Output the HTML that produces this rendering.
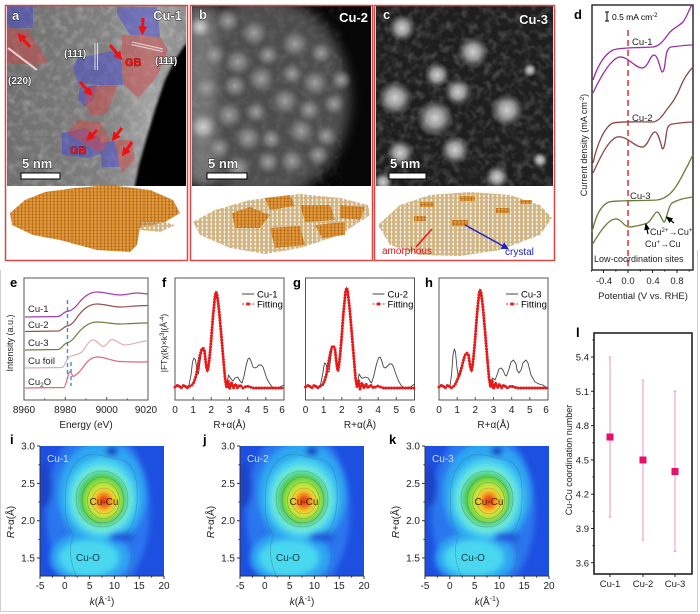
<!DOCTYPE html>
<html><head><meta charset="utf-8">
<style>
html,body{margin:0;padding:0;background:#fff;width:700px;height:614px;overflow:hidden}
svg{display:block;font-family:"Liberation Sans",Arial,sans-serif}
.tl{font-weight:bold;fill:#fff;stroke:#000;stroke-width:0.8;paint-order:stroke}
</style></head>
<body>
<svg width="700" height="614" viewBox="0 0 700 614" xmlns="http://www.w3.org/2000/svg" xmlns:xlink="http://www.w3.org/1999/xlink">
<defs>
<clipPath id="ca"><rect x="7" y="6" width="179" height="180"/></clipPath>
<clipPath id="cb"><rect x="192" y="6" width="179" height="180"/></clipPath>
<clipPath id="cc"><rect x="376" y="6" width="177" height="180"/></clipPath>
<clipPath id="cm"><rect x="0" y="0" width="124" height="130"/></clipPath>
<filter id="bl3" x="-20%" y="-20%" width="140%" height="140%"><feGaussianBlur stdDeviation="3"/></filter>
<filter id="bl6" x="-30%" y="-30%" width="160%" height="160%"><feGaussianBlur stdDeviation="6"/></filter>
<filter id="bl1"><feGaussianBlur stdDeviation="1.2"/></filter>
<filter id="noise" x="0" y="0" width="100%" height="100%"><feTurbulence type="fractalNoise" baseFrequency="0.13" numOctaves="2" seed="7"/><feColorMatrix type="matrix" values="0 0 0 0 1  0 0 0 0 1  0 0 0 0 1  1.3 0 0 0 -0.55"/></filter>
<radialGradient id="blob"><stop offset="0" stop-color="#d0d0d0"/><stop offset="0.45" stop-color="#b0b0b0" stop-opacity="0.85"/><stop offset="1" stop-color="#808080" stop-opacity="0"/></radialGradient>
<radialGradient id="blob2"><stop offset="0" stop-color="#a0a0a0"/><stop offset="0.5" stop-color="#868686" stop-opacity="0.7"/><stop offset="1" stop-color="#606060" stop-opacity="0"/></radialGradient>
<linearGradient id="ga" x1="0" x2="1" y1="0" y2="0"><stop offset="0" stop-color="#6e6e6e"/><stop offset="0.55" stop-color="#808080"/><stop offset="0.8" stop-color="#a2a2a2"/><stop offset="1" stop-color="#8a8a8a"/></linearGradient>
<marker id="ar" viewBox="0 0 10 10" refX="4" refY="5" markerWidth="3" markerHeight="3" orient="auto"><path d="M0,0 L10,5 L0,10 z" fill="#ee1111"/></marker>
<marker id="ab" viewBox="0 0 10 10" refX="4" refY="5" markerWidth="6" markerHeight="6" orient="auto"><path d="M0,1 L10,5 L0,9 z" fill="#000"/></marker>
<marker id="abl" viewBox="0 0 10 10" refX="4" refY="5" markerWidth="5" markerHeight="5" orient="auto"><path d="M0,0 L10,5 L0,10 z" fill="#2020d0"/></marker>
<pattern id="po" width="3.6" height="3.2" patternUnits="userSpaceOnUse"><rect width="3.6" height="3.2" fill="#b46c1c"/><circle cx="1.8" cy="1.6" r="1.45" fill="#e3983a"/></pattern>
<pattern id="pt" width="4.4" height="4" patternUnits="userSpaceOnUse"><circle cx="2.2" cy="2" r="1.8" fill="#dab87e" stroke="#a8864c" stroke-width="0.4"/></pattern>

<path id="rf1" d="M0,387 L3,385 L6,388 L9,385 L12,388 L15,386 L17,385 L19,382 L21,376 L23,366 L25,355 L26.5,350 L28,348 L29.5,351 L30.5,360 L31.5,368 L32.5,371 L33.5,366 L34.5,358 L36,342 L38,316 L40,296 L41,292 L42,294 L44,310 L46,332 L48,355 L50,378 L51.5,387 L53,380 L54.5,389 L56.5,383 L58.5,388 L60.5,384 L62.5,388 L65,385 L68,388 L72,386 L78,388 L109,388"/>
<path id="rf2" d="M0,387 L3,385 L6,388 L9,385 L12,388 L15,386 L17,385 L19,381 L21,374 L23,363 L25,352 L26.5,347 L28,346 L29.5,349 L30.5,359 L31.5,367 L32.5,371 L33.5,365 L34.5,356 L36,339 L38,312 L40,292 L41,288 L42,290 L44,307 L46,330 L48,354 L50,378 L51.5,387 L53,380 L54.5,389 L56.5,383 L58.5,388 L60.5,384 L62.5,388 L65,385 L68,388 L72,386 L78,388 L109,388"/>
<path id="rf3" d="M0,387 L3,385 L6,388 L9,385 L12,388 L15,386 L17,383 L19,378 L21,373 L23,366 L25,358 L26.5,354 L28,353 L29.5,355 L30.5,362 L31.5,368 L32.5,371 L33.5,366 L34.5,357 L36,341 L38,314 L40,294 L41,290 L42,292 L44,308 L46,331 L48,355 L50,378 L51.5,387 L53,380 L54.5,389 L56.5,383 L58.5,388 L60.5,384 L62.5,388 L65,385 L68,388 L72,386 L78,388 L109,388"/>

<g id="cmap">
 <g clip-path="url(#cm)">
  <rect width="124" height="130" fill="#1d4fe0"/>
  <g filter="url(#bl3)">
   <ellipse cx="58" cy="65" rx="52" ry="85" fill="#2a76ee"/>
   <ellipse cx="62" cy="48" rx="44" ry="52" fill="#2fa6f2"/>
   <ellipse cx="50" cy="112" rx="40" ry="26" fill="#2fa6f2"/>
   <ellipse cx="62" cy="52" rx="36" ry="40" fill="#46d2f0"/>
   <ellipse cx="49" cy="112" rx="30" ry="18" fill="#4ad8f0"/>
   <ellipse cx="62" cy="53" rx="30" ry="33" fill="#78eed8"/>
   <ellipse cx="62" cy="53" rx="25" ry="27" fill="#3cc84a"/>
   <ellipse cx="63" cy="54" rx="19" ry="21" fill="#9ee43a"/>
   <ellipse cx="64" cy="55" rx="14" ry="15" fill="#f4ec3a"/>
   <ellipse cx="64" cy="55" rx="10" ry="11" fill="#f8a020"/>
   <ellipse cx="64" cy="55" rx="6" ry="7" fill="#e83418"/>
   <ellipse cx="82" cy="91" rx="13" ry="5" fill="#2258dc"/>
   <ellipse cx="72" cy="5" rx="6" ry="5" fill="#1a3cc4"/>
   <ellipse cx="4" cy="40" rx="8" ry="22" fill="#1a42c8"/>
  </g>
  <g fill="none" stroke="#3a6a70" stroke-width="0.6" opacity="0.5">
   <ellipse cx="62" cy="53" rx="26" ry="28"/>
   <ellipse cx="63" cy="54" rx="21" ry="23"/>
   <ellipse cx="63.5" cy="54.5" rx="16" ry="18"/>
   <ellipse cx="64" cy="55" rx="12" ry="13"/>
   <path d="M36,130 C30,115 28,100 34,90 C26,80 24,62 26,42 C28,25 35,15 45,10 C55,6 70,12 82,14 C95,18 98,35 97,55 C96,72 92,82 86,88 C95,96 92,112 88,130"/>
  </g>
 </g>
 <path d="M0,0 V130 H124" fill="none" stroke="#333" stroke-width="1"/>
 <g stroke="#333" stroke-width="1">
  <path d="M0,130v3M24.8,130v3M49.6,130v3M74.4,130v3M99.2,130v3M124,130v3M12.4,130v1.6M37.2,130v1.6M62,130v1.6M86.8,130v1.6M111.6,130v1.6"/>
  <path d="M0,0h-3M0,37.35h-3M0,74.7h-3M0,112.05h-3M0,18.7h-1.6M0,56h-1.6M0,93.4h-1.6"/>
 </g>
 <g font-size="10" fill="#222" text-anchor="middle">
  <text x="0" y="143">-5</text><text x="24.8" y="143">0</text><text x="49.6" y="143">5</text><text x="74.4" y="143">10</text><text x="99.2" y="143">15</text><text x="124" y="143">20</text>
 </g>
 <g font-size="10" fill="#222" text-anchor="end">
  <text x="-5" y="3.5">3.0</text><text x="-5" y="40.9">2.5</text><text x="-5" y="78.2">2.0</text><text x="-5" y="115.6">1.5</text>
 </g>
 <text x="62" y="159" text-anchor="middle" font-size="10" fill="#222"><tspan font-style="italic">k</tspan>(Å<tspan font-size="7" dy="-4">-1</tspan><tspan dy="4">)</tspan></text>
 <text transform="translate(-26,76) rotate(-90)" text-anchor="middle" font-size="10" fill="#222"><tspan font-style="italic">R</tspan>+α(Å)</text>
 <text x="64" y="59" text-anchor="middle" font-size="10" fill="#4a2208">Cu-Cu</text>
 <text x="48" y="115" text-anchor="middle" font-size="10" fill="#1c3c3c">Cu-O</text>
</g>
</defs>

<!-- outer light frame -->
<path d="M0.5,270 V611.5 H697.5 V250" fill="none" stroke="#cfcfcf" stroke-width="1"/>

<!-- ===== Panel a ===== -->
<g clip-path="url(#ca)">
 <rect x="7" y="6" width="179" height="180" fill="url(#ga)"/>
 <rect x="7" y="6" width="179" height="180" filter="url(#noise)" opacity="0.4"/>
 <polygon points="190,38 176,58 165,80 155,110 146,140 139,165 134,190 190,190" fill="#050505" filter="url(#bl1)"/>
 <g fill="#4848d0" opacity="0.5">
  <polygon points="7,6 33,6 33,28 7,28"/>
  <polygon points="117,7 157,7 160,37 130,35 117,14"/>
  <polygon points="78,58 117,50 122,63 123,85 98,85 78,83 73,67"/>
  <polygon points="80,87 97,85 93,100 85,107 78,100"/>
  <polygon points="62,133 85,128 100,138 102,153 90,158 62,155"/>
  <polygon points="100,143 115,141 120,167 102,167"/>
 </g>
 <g fill="#d04848" opacity="0.5">
  <polygon points="7,28 28,30 48,62 37,65 7,63"/>
  <polygon points="122,35 160,37 168,50 157,77 138,98 123,83 122,63"/>
  <polygon points="85,87 118,85 107,113 93,117 86,107"/>
  <polygon points="78,120 100,122 110,140 100,153 67,133"/>
  <polygon points="115,140 132,140 135,160 122,173 118,160"/>
 </g>
 <g stroke="#eee" stroke-width="1" opacity="0.85">
  <path d="M95,43 V70 M97.5,43 V70"/>
  <path d="M132,42 L163,49 M131.5,44.5 L162.5,51.5"/>
 </g>
 <path d="M8,48 L37,70" stroke="#f4d4d4" stroke-width="2"/>
 <g stroke="#ee1111" stroke-width="3" marker-end="url(#ar)">
  <path d="M30,47 L21,37"/>
  <path d="M143,18 L142.5,30"/>
  <path d="M110,45 L119,56"/>
  <path d="M80,82 L89,92"/>
  <path d="M97,130 L90,137"/>
  <path d="M122,128 L115,137"/>
  <path d="M132,142 L125,152"/>
 </g>
 <text x="12" y="20" class="tl" font-size="13">a</text>
 <text x="182" y="20" class="tl" font-size="13" text-anchor="end">Cu-1</text>
 <text x="64" y="57" class="tl" font-size="10">(111)</text>
 <text x="8" y="84" class="tl" font-size="10">(220)</text>
 <text x="155" y="64" class="tl" font-size="10">(111)</text>
 <text x="125" y="66" font-size="11" font-weight="bold" fill="#ee1111" stroke="#400" stroke-width="0.4" paint-order="stroke">GB</text>
 <text x="70" y="154" font-size="11" font-weight="bold" fill="#ee1111" stroke="#400" stroke-width="0.4" paint-order="stroke">GB</text>
 <text x="22" y="168" class="tl" font-size="13">5 nm</text>
 <rect x="21" y="173" width="39" height="6" fill="#fff" stroke="#000" stroke-width="1"/>
</g>

<!-- ===== Panel b ===== -->
<g clip-path="url(#cb)">
 <rect x="192" y="6" width="179" height="180" fill="#060606"/>
 <ellipse cx="262" cy="98" rx="88" ry="102" fill="#4e4e4e" filter="url(#bl6)"/>
 <rect x="188" y="6" width="28" height="180" fill="#747474" filter="url(#bl6)"/>
 <rect x="192" y="6" width="150" height="180" filter="url(#noise)" opacity="0.15"/>
 <g fill="url(#blob2)">
  <circle cx="201" cy="28" r="15"/><circle cx="228" cy="21" r="13"/><circle cx="254" cy="33" r="15"/>
  <circle cx="214" cy="55" r="13"/><circle cx="238" cy="62" r="15"/><circle cx="268" cy="55" r="12"/><circle cx="295" cy="44" r="15"/><circle cx="321" cy="53" r="12"/>
  <circle cx="206" cy="88" r="15"/><circle cx="235" cy="86" r="13"/><circle cx="261" cy="79" r="15"/><circle cx="292" cy="74" r="12"/><circle cx="315" cy="83" r="15"/><circle cx="341" cy="80" r="11"/>
  <circle cx="229" cy="115" r="15"/><circle cx="256" cy="112" r="12"/><circle cx="285" cy="101" r="15"/><circle cx="309" cy="110" r="13"/><circle cx="334" cy="104" r="12"/>
  <circle cx="219" cy="148" r="13"/><circle cx="248" cy="138" r="15"/><circle cx="271" cy="139" r="12"/><circle cx="301" cy="131" r="15"/><circle cx="326" cy="136" r="12"/>
  <circle cx="238" cy="168" r="15"/><circle cx="268" cy="162" r="13"/><circle cx="292" cy="161" r="14"/><circle cx="318" cy="155" r="12"/>
 </g>
 <circle cx="203" cy="127" r="15" fill="url(#blob)"/>
 <circle cx="200" cy="27" r="11" fill="url(#blob)"/>
 <text x="199" y="19" class="tl" font-size="13">b</text>
 <text x="368" y="22" class="tl" font-size="13" text-anchor="end">Cu-2</text>
 <text x="208" y="168" class="tl" font-size="13">5 nm</text>
 <rect x="207" y="173" width="40" height="6" fill="#fff" stroke="#000" stroke-width="1"/>
</g>

<!-- ===== Panel c ===== -->
<g clip-path="url(#cc)">
 <rect x="376" y="6" width="177" height="180" fill="#1e1e1e"/>
 <rect x="376" y="6" width="177" height="180" filter="url(#noise)" opacity="0.35"/>
 <g fill="url(#blob)">
  <circle cx="402" cy="28" r="14"/><circle cx="473" cy="52" r="16"/><circle cx="437" cy="75" r="13"/>
  <circle cx="395" cy="98" r="18"/><circle cx="458" cy="92" r="14"/><circle cx="435" cy="118" r="19"/>
  <circle cx="507" cy="110" r="17"/><circle cx="455" cy="150" r="15"/><circle cx="400" cy="153" r="14"/>
  <circle cx="497" cy="177" r="12"/><circle cx="540" cy="160" r="8"/><circle cx="383" cy="182" r="10"/><circle cx="530" cy="70" r="7"/>
 </g>
 <text x="383" y="19" class="tl" font-size="13">c</text>
 <text x="548" y="24" class="tl" font-size="13" text-anchor="end">Cu-3</text>
 <text x="390" y="168" class="tl" font-size="13">5 nm</text>
 <rect x="389" y="173" width="37" height="6" fill="#fff" stroke="#000" stroke-width="1"/>
</g>

<!-- models -->
<polygon points="10,213 25,200 45,192 75,188 110,185 150,190 173,200 180,213 165,222 140,228 137,245 130,252 97,250 60,240 33,235 12,225" fill="url(#po)"/>
<polygon points="140,222 165,222 175,225 160,232 140,230" fill="url(#pt)"/>
<polygon points="193,222 215,210 250,200 300,194 340,198 368,205 370,215 340,235 300,248 265,254 230,248 200,235" fill="url(#pt)"/>
<g fill="url(#po)">
 <polygon points="232,213 250,207 270,215 260,228 235,228"/>
 <polygon points="265,198 290,195 295,206 270,210"/>
 <polygon points="300,205 330,205 335,220 305,222"/>
 <polygon points="270,228 300,226 305,245 275,248"/>
 <polygon points="340,205 365,207 360,220 340,218"/>
 <polygon points="315,225 345,222 345,235 322,238"/>
</g>
<polygon points="378,225 400,205 430,195 470,192 510,195 540,205 552,218 540,235 500,250 460,256 420,255 390,245" fill="url(#pt)"/>
<g fill="url(#po)">
 <rect x="420" y="202" width="14" height="5"/><rect x="460" y="196" width="15" height="5"/><rect x="414" y="216" width="12" height="5"/>
 <rect x="452" y="220" width="16" height="6"/><rect x="496" y="208" width="14" height="5"/><rect x="520" y="200" width="12" height="4"/>
</g>
<path d="M432,229 L416,247" stroke="#ee1111" stroke-width="1.5"/>
<path d="M465,225 L505,247" stroke="#2020d0" stroke-width="1.5" marker-end="url(#abl)"/>
<text x="382" y="254" font-size="10" fill="#dd1111">amorphous</text>
<text x="505" y="255" font-size="10" fill="#2020d0">crystal</text>

<!-- red frames -->
<g fill="none" stroke="#d44848" stroke-width="1.5">
 <rect x="5.5" y="5.5" width="182" height="255"/>
 <rect x="190.5" y="5.5" width="182" height="255"/>
 <rect x="374.5" y="5.5" width="180" height="255"/>
</g>

<!-- ===== Panel d ===== -->
<text x="574" y="19" font-size="13" font-weight="bold">d</text>
<rect x="592" y="5" width="101" height="265" fill="none" stroke="#222" stroke-width="1.4"/>
<path d="M607,12 V21 M605,12 H609 M605,21 H609" stroke="#000" stroke-width="1"/>
<text x="612" y="20" font-size="8.5">0.5 mA cm<tspan font-size="6" dy="-3">-2</tspan></text>
<path d="M628,30 V270" stroke="#e03030" stroke-width="1.5" stroke-dasharray="6 4"/>
<g fill="none" stroke-width="1.3">
 <path stroke="#9a2fa8" d="M593,80 C597,68 603,55 613,50 C622,47 640,48 653,47 C661,46 665,38 670,32 C675,27 679,26 683,22 C687,17 689,9 692,5"/>
 <path stroke="#9a2fa8" d="M593,93 C600,78 610,60 619,57 C628,56 635,68 642,68 C648,68 650,55 654,55 C657,55 659,63 661,70 C662,74 664,72 665,64 C666,54 667,48 671,47 C679,46 686,45 693,45"/>
 <path stroke="#8c4848" d="M593,163 C597,145 604,127 613,123 C624,121 642,122 653,122 C660,121 664,113 668,108 C672,103 676,98 680,88 C684,78 688,72 693,67"/>
 <path stroke="#8c4848" d="M593,173 C600,158 608,140 617,137 C627,135 635,148 643,147 C648,146 651,132 655,132 C658,132 660,141 662,148 C663,151 665,146 666,136 C667,128 668,125 672,124 C680,123 687,122 693,122"/>
 <path stroke="#6b7b3a" d="M592,232 C596,215 601,205 609,202 C618,200 640,201 657,200 C666,199 672,193 677,185 C682,177 685,170 688,165 C690,160 692,157 693,155"/>
 <path stroke="#6b7b3a" d="M592,245 C598,235 607,220 615,219 C621,218 624,227 629,227 C634,227 640,225 645,224 C651,223 654,212 657,212 C660,212 662,221 664,222 C666,223 668,206 672,203 C679,199 686,198 693,197"/>
</g>
<g font-size="9.5" fill="#222">
 <text x="632" y="45">Cu-1</text>
 <text x="632" y="121">Cu-2</text>
 <text x="630" y="199">Cu-3</text>
 <text x="650" y="235" font-size="9">Cu<tspan font-size="6" dy="-3">2+</tspan><tspan dy="3">→Cu</tspan><tspan font-size="6" dy="-3">+</tspan></text>
 <text x="645" y="247" font-size="9">Cu<tspan font-size="6" dy="-3">+</tspan><tspan dy="3">→Cu</tspan></text>
 <text x="594" y="262" font-size="9">Low-coordination sites</text>
</g>
<path d="M648,234 L646.5,227" stroke="#000" stroke-width="1.2" marker-end="url(#ab)"/>
<path d="M674,223 L669,219" stroke="#000" stroke-width="1.2" marker-end="url(#ab)"/>
<g stroke="#222" stroke-width="1">
 <path d="M603.5,270v3M628,270v3M652.5,270v3M677,270v3M591.3,270v1.6M615.8,270v1.6M640.3,270v1.6M664.8,270v1.6M689.3,270v1.6"/>
</g>
<g font-size="9.5" text-anchor="middle" fill="#222">
 <text x="604" y="284">-0.4</text><text x="628" y="284">0.0</text><text x="653" y="284">0.4</text><text x="677" y="284">0.8</text>
 <text x="643" y="299">Potential (V vs. RHE)</text>
</g>
<text transform="translate(587,145) rotate(-90)" text-anchor="middle" font-size="9" fill="#222">Current density (mA cm<tspan font-size="6" dy="-3">-2</tspan><tspan dy="3">)</tspan></text>

<!-- ===== Panel e ===== -->
<text x="10" y="287" font-size="13" font-weight="bold">e</text>
<rect x="24" y="278" width="124" height="122" fill="none" stroke="#555" stroke-width="1"/>
<path d="M67.5,300 V379" stroke="#3a90d0" stroke-width="1.4" stroke-dasharray="4 3"/>
<path d="M71,362 V386" stroke="#3a90d0" stroke-width="1.4" stroke-dasharray="4 3"/>
<g fill="none" stroke-width="1.2">
 <path stroke="#a040b0" d="M25,317 L58,316.5 C62,316 63,312 67,311.5 C71,311 74,309 78,304 C84,296 90,292 97,292 C105,292 112,295 120,295 C127,295 131,293 137,293 C142,293 145,294 148,294"/>
 <path stroke="#985050" d="M25,331.5 L58,331 C62,330.5 63,327 67,326 C71,325.5 74,322 78,316 C84,308 90,304 97,304 C105,304 112,307 120,307 C127,307 135,305.5 148,305.5"/>
 <path stroke="#708040" d="M25,350 L58,349.5 C62,349 63,344 67,343 C71,342 74,338 78,333 C84,326 90,322 97,322 C105,322 112,324 120,324 C127,324 135,323 148,323"/>
 <path stroke="#e0b0b0" d="M25,368 L62,367.5 C65,367 66,358 70,356.5 C74,355 78,355 82,352 C86,347 89,340 93,340 C97,340 100,346 103,346.5 C106,347 109,339.5 112,339.5 C116,339.5 120,345 125,345 C132,345 140,341 148,341"/>
 <path stroke="#e06878" d="M25,388 L64,387.5 C66,387 68,372 70,371.5 C71.5,371 72,377 73.5,376.5 C76,375 80,372 84,366 C88,360 92,357 98,357 C105,357 112,361 120,361.5 C130,362 140,362 148,362"/>
</g>
<g font-size="9.5" fill="#222">
 <text x="28" y="312">Cu-1</text><text x="28" y="328">Cu-2</text><text x="28" y="346">Cu-3</text><text x="28" y="364">Cu foil</text><text x="28" y="385">Cu<tspan font-size="6.5" dy="2">2</tspan><tspan dy="-2">O</tspan></text>
</g>
<g stroke="#555" stroke-width="1">
 <path d="M24,400v-3M65.3,400v-3M106.7,400v-3M148,400v-3M44.7,400v-1.6M86,400v-1.6M127.3,400v-1.6"/>
</g>
<g font-size="10" text-anchor="middle" fill="#222">
 <text x="24" y="413">8960</text><text x="65.3" y="413">8980</text><text x="106.7" y="413">9000</text><text x="146" y="413">9020</text>
 <text x="86" y="428">Energy (eV)</text>
</g>
<text transform="translate(13,343) rotate(-90)" text-anchor="middle" font-size="9" fill="#222">Intensity (a.u.)</text>

<!-- ===== Panels f g h ===== -->
<text x="162" y="287" font-size="13" font-weight="bold">f</text>
<text x="293" y="287" font-size="13" font-weight="bold">g</text>
<text x="425" y="287" font-size="13" font-weight="bold">h</text>
<text transform="translate(167,343) rotate(-90)" text-anchor="middle" font-size="8.5" fill="#222">|FTχ(k)×k<tspan font-size="6" dy="-3">3</tspan><tspan dy="3">|(Å</tspan><tspan font-size="6" dy="-3">-4</tspan><tspan dy="3">)</tspan></text>

<g transform="translate(175,0)">
 <rect x="0" y="278" width="109" height="122" fill="none" stroke="#555"/>
 <polyline fill="none" stroke="#444" stroke-width="0.9" stroke-linejoin="round" points="0,387 3,386 6,388 9,386 12,387 14,385 16,375 17.5,362 19,358 20.5,360 22,370 23.5,374 25,362 26.5,352 28,349 29.5,352 30.5,361 31.5,368 32.5,371 33.5,366 34.5,358 36,342 38,316 40,296 41,292 42,294 44,310 46,332 48,355 50,378 51.5,385 53.6,375 56,379 58,381 60,378 62.7,377 65,381 67,383 69,376 71,366 73,359 74.5,358 76,361 78,367 80,368 82,367 84,365 86.3,365 88,367 90,373 92,379 95,384 98,388 100,389 105,387 109,385"/>
 <use xlink:href="#rf1" href="#rf1" fill="none" stroke="#e81818" stroke-width="1.2"/>
 <use xlink:href="#rf1" href="#rf1" fill="none" stroke="#e81818" stroke-width="3" stroke-dasharray="0 2.8" stroke-linecap="round"/>
 <path d="M67,294 H79" stroke="#444"/><text x="82" y="297.5" font-size="9.5">Cu-1</text>
 <path d="M67,304 H79" stroke="#e81818" stroke-dasharray="2 1.5"/><rect x="71.5" y="302.5" width="3" height="3" fill="#e81818"/><text x="82" y="307.5" font-size="9.5">Fitting</text>
</g>
<g transform="translate(305.5,0)">
 <rect x="0" y="278" width="109" height="122" fill="none" stroke="#555"/>
 <polyline fill="none" stroke="#444" stroke-width="0.9" stroke-linejoin="round" points="0,387 3,386 6,388 9,386 12,387 15,385 17,375 19,363 20.5,364 22,371 23.5,372 25,360 26.5,348 28,346 29.5,349 30.5,359 31.5,367 32.5,371 33.5,365 34.5,356 36,339 38,312 40,292 41,288 42,290 44,307 46,330 48,354 50,378 51.5,386 53.6,374 56,378 58,378 60,377 62.7,378 65,382 66,383 68,377 71,364 73,358 74.5,357 76,360 78,367 80,368 82,366 84,364 86.3,364 88,367 90,373 93,381 96,386 100,388 105,387 109,384"/>
 <use xlink:href="#rf2" href="#rf2" fill="none" stroke="#e81818" stroke-width="1.2"/>
 <use xlink:href="#rf2" href="#rf2" fill="none" stroke="#e81818" stroke-width="3" stroke-dasharray="0 2.8" stroke-linecap="round"/>
 <path d="M67,294 H79" stroke="#444"/><text x="82" y="297.5" font-size="9.5">Cu-2</text>
 <path d="M67,304 H79" stroke="#e81818" stroke-dasharray="2 1.5"/><rect x="71.5" y="302.5" width="3" height="3" fill="#e81818"/><text x="82" y="307.5" font-size="9.5">Fitting</text>
</g>
<g transform="translate(439,0)">
 <rect x="0" y="278" width="109" height="122" fill="none" stroke="#555"/>
 <polyline fill="none" stroke="#444" stroke-width="0.9" stroke-linejoin="round" points="0,387 3,386 6,388 9,386 11,386 12.5,375 14,355 15.4,349 16.5,352 18,368 19.5,378 21,376 23,368 25,360 26.5,355 28,353 29.5,355 30.5,362 31.5,368 32.5,371 33.5,366 34.5,357 36,341 38,314 40,294 41,290 42,292 44,308 46,331 48,355 50,378 51.5,386 53.6,378 56,380 58,375 60,369 62,368 64,370 66,375 67.5,376 70,369 72,362 74.5,360 77,364 78,370 80,373 82,370 84,363 87,360 89,363 92,375 96,382 100,384 104,385 109,389"/>
 <use xlink:href="#rf3" href="#rf3" fill="none" stroke="#e81818" stroke-width="1.2"/>
 <use xlink:href="#rf3" href="#rf3" fill="none" stroke="#e81818" stroke-width="3" stroke-dasharray="0 2.8" stroke-linecap="round"/>
 <path d="M67,294 H79" stroke="#444"/><text x="82" y="297.5" font-size="9.5">Cu-3</text>
 <path d="M67,304 H79" stroke="#e81818" stroke-dasharray="2 1.5"/><rect x="71.5" y="302.5" width="3" height="3" fill="#e81818"/><text x="82" y="307.5" font-size="9.5">Fitting</text>
</g>
<!-- fgh ticks and labels -->
<g font-size="10" text-anchor="middle" fill="#222">
 <g transform="translate(175,0)">
  <text x="0" y="413">0</text><text x="18.2" y="413">1</text><text x="36.3" y="413">2</text><text x="54.5" y="413">3</text><text x="72.7" y="413">4</text><text x="90.8" y="413">5</text><text x="107" y="413">6</text>
  <text x="54.5" y="428">R+α(Å)</text>
 </g>
 <g transform="translate(305.5,0)">
  <text x="0" y="413">0</text><text x="18.2" y="413">1</text><text x="36.3" y="413">2</text><text x="54.5" y="413">3</text><text x="72.7" y="413">4</text><text x="90.8" y="413">5</text><text x="107" y="413">6</text>
  <text x="54.5" y="428">R+α(Å)</text>
 </g>
 <g transform="translate(439,0)">
  <text x="0" y="413">0</text><text x="18.2" y="413">1</text><text x="36.3" y="413">2</text><text x="54.5" y="413">3</text><text x="72.7" y="413">4</text><text x="90.8" y="413">5</text><text x="107" y="413">6</text>
  <text x="54.5" y="428">R+α(Å)</text>
 </g>
</g>
<g stroke="#555" stroke-width="1">
 <path d="M193.2,400v-3M211.3,400v-3M229.5,400v-3M247.7,400v-3M265.8,400v-3"/>
 <path d="M323.7,400v-3M341.8,400v-3M360,400v-3M378.2,400v-3M396.3,400v-3"/>
 <path d="M457.2,400v-3M475.3,400v-3M493.5,400v-3M511.7,400v-3M529.8,400v-3"/>
</g>

<!-- ===== Panels i j k ===== -->
<text x="10" y="444" font-size="13" font-weight="bold">i</text>
<text x="203" y="444" font-size="13" font-weight="bold">j</text>
<text x="389" y="444" font-size="13" font-weight="bold">k</text>
<g transform="translate(40,446)"><use xlink:href="#cmap" href="#cmap"/><text x="7" y="16" font-size="10" fill="#d4dcff">Cu-1</text></g>
<g transform="translate(240,446)"><use xlink:href="#cmap" href="#cmap"/><text x="7" y="16" font-size="10" fill="#d4dcff">Cu-2</text></g>
<g transform="translate(425,446)"><use xlink:href="#cmap" href="#cmap"/><text x="7" y="16" font-size="10" fill="#d4dcff">Cu-3</text></g>

<!-- ===== Panel l ===== -->
<text x="576" y="337" font-size="13" font-weight="bold">l</text>
<rect x="594" y="333" width="98" height="241" fill="none" stroke="#222" stroke-width="1.6"/>
<g stroke="#222" stroke-width="1">
 <path d="M594,357h-3M594,391.3h-3M594,425.6h-3M594,459.9h-3M594,494.2h-3M594,528.5h-3M594,562.8h-3"/>
 <path d="M594,339.9h-1.6M594,374.1h-1.6M594,408.4h-1.6M594,442.7h-1.6M594,477h-1.6M594,511.3h-1.6M594,545.6h-1.6"/>
 <path d="M610,574v3M643,574v3M675,574v3"/>
</g>
<g font-size="9.5" text-anchor="end" fill="#222">
 <text x="589" y="360.5">5.4</text><text x="589" y="394.8">5.1</text><text x="589" y="429.1">4.8</text><text x="589" y="463.4">4.5</text><text x="589" y="497.7">4.2</text><text x="589" y="532">3.9</text><text x="589" y="566.3">3.6</text>
</g>
<g font-size="9.5" text-anchor="middle" fill="#222">
 <text x="610" y="587">Cu-1</text><text x="643" y="587">Cu-2</text><text x="675" y="587">Cu-3</text>
</g>
<text transform="translate(572,460) rotate(-90)" text-anchor="middle" font-size="9" fill="#222">Cu-Cu coordination number</text>
<g stroke="#e8a0c8" stroke-width="1.1">
 <path d="M610,357 V517 M608.5,357 H611.5 M608.5,517 H611.5"/>
 <path d="M643,380 V540 M641.5,380 H644.5 M641.5,540 H644.5"/>
 <path d="M675,391.3 V551.3 M673.5,391.3 H676.5 M673.5,551.3 H676.5"/>
</g>
<g fill="#e8106a">
 <rect x="606.5" y="433.5" width="7" height="7"/>
 <rect x="639.5" y="456.5" width="7" height="7"/>
 <rect x="671.5" y="468" width="7" height="7"/>
</g>
</svg>
</body></html>
